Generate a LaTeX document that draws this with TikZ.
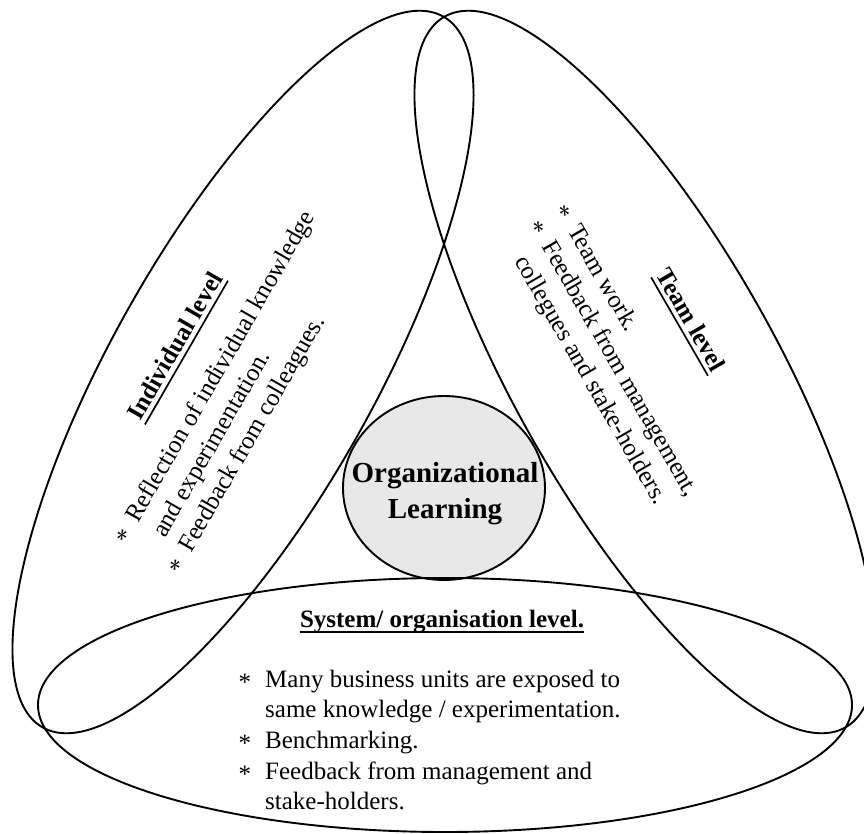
\documentclass[tikz,border=0pt]{standalone}
\usepackage{fontspec}
\setmainfont{Liberation Serif}
\usetikzlibrary{calc}
\tikzset{
  loopline/.style={line width=1.9pt},
  txt/.style={inner sep=0pt, font=\fontsize{25}{30}\selectfont, anchor=base west},
  ttl/.style={inner sep=0pt, font=\fontsize{25}{30}\selectfont\bfseries, anchor=base},
  oltxt/.style={inner sep=0pt, font=\fontsize{29}{35}\selectfont\bfseries, anchor=base},
}
\newcommand\bul{\llap{\raisebox{-4pt}{*}\hspace{11pt}}}
\newcommand\sbul{\llap{\raisebox{-3pt}{*}\hspace{14pt}}}
\newcommand\myul[1]{\setbox0\hbox{#1}\rlap{\rule[-6pt]{\wd0}{1.7pt}}\box0}
\begin{document}
\begin{tikzpicture}[x=1pt,y=-1pt]
\useasboundingbox (0,0) rectangle (864,834);
\clip (0,0) rectangle (864,834);
% central circle
\draw[loopline, fill=gray!18] (444,488) ellipse [x radius=101, y radius=92];
% the three loops
\draw[loopline, rotate around={60.6:(243,372)}] (243,372) ellipse [x radius=408, y radius=131];
\draw[loopline, rotate around={-60.6:(645,372)}] (645,372) ellipse [x radius=408, y radius=131];
\draw[loopline] (445,705) ellipse [x radius=407, y radius=127];
% centre text
\node[oltxt] (o1) at (445,482) {Organizational};
\node[oltxt] (o2) at (445,518) {Learning};
% individual level
\node[ttl, rotate=60] (it) at (182,350) {\myul{Individual level}};
\node[txt, rotate=60] (i1) at (138,524) {\bul Reflection of individual knowledge};
\node[txt, rotate=60] (i2) at (165,539) {and experimentation.};
\node[txt, rotate=60] (i3) at (191,554) {\bul Feedback from colleagues.};
% team level
\node[ttl, rotate=-60] (tt) at (684,324) {\myul{Team level}};
\node[txt, rotate=-60] (t1) at (567,230) {\bul Team work.};
\node[txt, rotate=-60] (t2) at (541,246) {\bul Feedback from management,};
\node[txt, rotate=-60] (t3) at (514,261) {collegues and stake-holders.};
% system level
\node[ttl] (st) at (442,627) {\myul{System/ organisation level.}};
\node[txt] (s1) at (265,687) {\sbul Many business units are exposed to};
\node[txt] (s2) at (265,717) {same knowledge / experimentation.};
\node[txt] (s3) at (265,748) {\sbul Benchmarking.};
\node[txt] (s4) at (265,779) {\sbul Feedback from management and};
\node[txt] (s5) at (265,809) {stake-holders.};
\end{tikzpicture}
\end{document}
